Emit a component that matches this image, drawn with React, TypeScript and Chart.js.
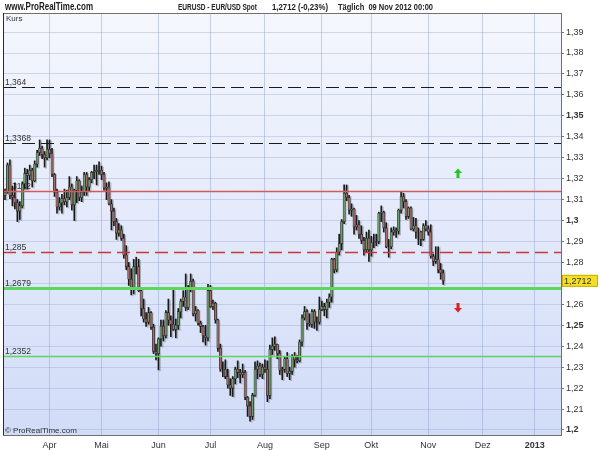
import React, { useEffect, useRef } from "react";
import { Chart, registerables } from "chart.js";

Chart.register(...registerables);

// ---------- DATA (daily EUR/USD, 7 Mar 2012 .. 9 Nov 2012, trading-day index) ----------
const openV = [
  1.3120, 1.3135, 1.3265, 1.3120, 1.3110, 1.3085, 1.3045, 1.3070, 1.3175, 1.3225,
  1.3215, 1.3240, 1.3190, 1.3270, 1.3325, 1.3345, 1.3315, 1.3300, 1.3340, 1.3320,
  1.3220, 1.3135, 1.3065, 1.3085, 1.3105, 1.3090, 1.3110, 1.3160, 1.3075, 1.3145,
  1.3190, 1.3110, 1.3135, 1.3220, 1.3160, 1.3195, 1.3230, 1.3235, 1.3240, 1.3240,
  1.3220, 1.3155, 1.3160, 1.3080, 1.3045, 1.2995, 1.2940, 1.2955, 1.2915, 1.2835,
  1.2780, 1.2720, 1.2680, 1.2780, 1.2780, 1.2665, 1.2580, 1.2530, 1.2515, 1.2560,
  1.2490, 1.2375, 1.2365, 1.2435, 1.2495, 1.2450, 1.2560, 1.2525, 1.2505, 1.2480,
  1.2500, 1.2565, 1.2615, 1.2635, 1.2585, 1.2680, 1.2710, 1.2555, 1.2570, 1.2510,
  1.2495, 1.2450, 1.2440, 1.2665, 1.2590, 1.2605, 1.2525, 1.2390, 1.2290, 1.2290,
  1.2255, 1.2215, 1.2200, 1.2245, 1.2290, 1.2275, 1.2265, 1.2275, 1.2155, 1.2115,
  1.2065, 1.2165, 1.2290, 1.2305, 1.2265, 1.2300, 1.2290, 1.2165, 1.2385, 1.2400,
  1.2410, 1.2365, 1.2285, 1.2290, 1.2340, 1.2270, 1.2280, 1.2350, 1.2335, 1.2330,
  1.2420, 1.2535, 1.2565, 1.2510, 1.2505, 1.2565, 1.2515, 1.2515, 1.2575, 1.2590,
  1.2575, 1.2610, 1.2635, 1.2815, 1.2765, 1.2850, 1.2890, 1.2995, 1.3130, 1.3110,
  1.3050, 1.3055, 1.2970, 1.2980, 1.2935, 1.2905, 1.2860, 1.2915, 1.2860, 1.2895,
  1.2895, 1.2900, 1.3035, 1.3040, 1.2965, 1.2875, 1.2875, 1.2945, 1.2955, 1.2950,
  1.3050, 1.3115, 1.3090, 1.3020, 1.3060, 1.2960, 1.2975, 1.2945, 1.2945, 1.2910,
  1.2975, 1.2960, 1.2945, 1.2830, 1.2805, 1.2815, 1.2765, 1.2750,
];
const highV = [
  1.3150, 1.3275, 1.3290, 1.3165, 1.3180, 1.3100, 1.3090, 1.3185, 1.3250, 1.3245,
  1.3265, 1.3250, 1.3285, 1.3335, 1.3385, 1.3355, 1.3330, 1.3385, 1.3385, 1.3345,
  1.3225, 1.3150, 1.3110, 1.3125, 1.3150, 1.3145, 1.3210, 1.3175, 1.3150, 1.3210,
  1.3195, 1.3165, 1.3230, 1.3230, 1.3205, 1.3235, 1.3265, 1.3265, 1.3280, 1.3260,
  1.3230, 1.3180, 1.3185, 1.3100, 1.3060, 1.3010, 1.2985, 1.2975, 1.2935, 1.2880,
  1.2800, 1.2770, 1.2815, 1.2825, 1.2815, 1.2680, 1.2625, 1.2560, 1.2585, 1.2565,
  1.2505, 1.2410, 1.2440, 1.2525, 1.2525, 1.2570, 1.2625, 1.2545, 1.2670, 1.2530,
  1.2580, 1.2625, 1.2665, 1.2745, 1.2690, 1.2745, 1.2720, 1.2590, 1.2575, 1.2520,
  1.2500, 1.2500, 1.2695, 1.2690, 1.2620, 1.2610, 1.2530, 1.2410, 1.2325, 1.2335,
  1.2290, 1.2245, 1.2255, 1.2300, 1.2330, 1.2290, 1.2315, 1.2285, 1.2160, 1.2135,
  1.2175, 1.2325, 1.2330, 1.2320, 1.2315, 1.2335, 1.2330, 1.2405, 1.2440, 1.2445,
  1.2410, 1.2380, 1.2300, 1.2350, 1.2370, 1.2300, 1.2360, 1.2370, 1.2355, 1.2430,
  1.2550, 1.2590, 1.2575, 1.2555, 1.2575, 1.2575, 1.2540, 1.2635, 1.2615, 1.2605,
  1.2625, 1.2650, 1.2820, 1.2820, 1.2870, 1.2935, 1.3005, 1.3170, 1.3170, 1.3120,
  1.3080, 1.3060, 1.3025, 1.3000, 1.2975, 1.2920, 1.2945, 1.2955, 1.2925, 1.2935,
  1.2935, 1.3040, 1.3070, 1.3045, 1.2990, 1.2910, 1.2965, 1.2970, 1.2965, 1.3055,
  1.3140, 1.3130, 1.3100, 1.3065, 1.3065, 1.3015, 1.3010, 1.2965, 1.2950, 1.2985,
  1.3000, 1.2975, 1.2980, 1.2840, 1.2875, 1.2875, 1.2795, 1.2765,
];
const lowV = [
  1.3100, 1.3130, 1.3105, 1.3070, 1.3055, 1.2995, 1.3005, 1.3060, 1.3150, 1.3150,
  1.3195, 1.3160, 1.3185, 1.3255, 1.3310, 1.3295, 1.3255, 1.3290, 1.3300, 1.3210,
  1.3115, 1.3035, 1.3050, 1.3035, 1.3075, 1.3065, 1.3100, 1.3050, 1.3000, 1.3085,
  1.3095, 1.3090, 1.3120, 1.3120, 1.3140, 1.3180, 1.3200, 1.3170, 1.3220, 1.3195,
  1.3145, 1.3100, 1.3075, 1.2955, 1.2975, 1.2910, 1.2925, 1.2905, 1.2820, 1.2765,
  1.2690, 1.2645, 1.2650, 1.2745, 1.2660, 1.2545, 1.2515, 1.2495, 1.2505, 1.2480,
  1.2365, 1.2335, 1.2287, 1.2400, 1.2425, 1.2440, 1.2500, 1.2445, 1.2475, 1.2440,
  1.2480, 1.2535, 1.2590, 1.2570, 1.2575, 1.2660, 1.2545, 1.2520, 1.2500, 1.2465,
  1.2420, 1.2405, 1.2425, 1.2585, 1.2575, 1.2510, 1.2375, 1.2280, 1.2255, 1.2245,
  1.2200, 1.2165, 1.2160, 1.2220, 1.2250, 1.2225, 1.2250, 1.2145, 1.2065, 1.2042,
  1.2050, 1.2160, 1.2245, 1.2255, 1.2245, 1.2275, 1.2135, 1.2150, 1.2360, 1.2380,
  1.2340, 1.2265, 1.2240, 1.2275, 1.2255, 1.2240, 1.2265, 1.2300, 1.2320, 1.2325,
  1.2400, 1.2525, 1.2480, 1.2495, 1.2490, 1.2485, 1.2475, 1.2505, 1.2570, 1.2545,
  1.2535, 1.2585, 1.2610, 1.2750, 1.2755, 1.2835, 1.2860, 1.2985, 1.3095, 1.3030,
  1.3020, 1.2935, 1.2955, 1.2915, 1.2890, 1.2835, 1.2850, 1.2805, 1.2830, 1.2870,
  1.2880, 1.2890, 1.2995, 1.2945, 1.2870, 1.2825, 1.2865, 1.2930, 1.2920, 1.2935,
  1.3035, 1.3060, 1.3005, 1.3010, 1.2955, 1.2950, 1.2915, 1.2885, 1.2880, 1.2905,
  1.2950, 1.2930, 1.2820, 1.2785, 1.2795, 1.2750, 1.2720, 1.2695,
];
const closeV = [
  1.3135, 1.3265, 1.3120, 1.3110, 1.3085, 1.3045, 1.3070, 1.3175, 1.3225, 1.3215,
  1.3240, 1.3190, 1.3270, 1.3325, 1.3345, 1.3315, 1.3300, 1.3340, 1.3320, 1.3220,
  1.3135, 1.3065, 1.3085, 1.3105, 1.3090, 1.3110, 1.3160, 1.3075, 1.3145, 1.3190,
  1.3110, 1.3135, 1.3220, 1.3160, 1.3195, 1.3230, 1.3235, 1.3240, 1.3240, 1.3220,
  1.3155, 1.3160, 1.3080, 1.3045, 1.2995, 1.2940, 1.2955, 1.2915, 1.2835, 1.2780,
  1.2720, 1.2680, 1.2780, 1.2780, 1.2665, 1.2580, 1.2530, 1.2515, 1.2560, 1.2490,
  1.2375, 1.2365, 1.2435, 1.2495, 1.2450, 1.2560, 1.2525, 1.2505, 1.2480, 1.2500,
  1.2565, 1.2615, 1.2635, 1.2585, 1.2680, 1.2710, 1.2555, 1.2570, 1.2510, 1.2495,
  1.2450, 1.2440, 1.2665, 1.2590, 1.2605, 1.2525, 1.2390, 1.2290, 1.2290, 1.2255,
  1.2215, 1.2200, 1.2245, 1.2290, 1.2275, 1.2265, 1.2275, 1.2155, 1.2115, 1.2065,
  1.2165, 1.2290, 1.2305, 1.2265, 1.2300, 1.2290, 1.2165, 1.2385, 1.2400, 1.2410,
  1.2365, 1.2285, 1.2290, 1.2340, 1.2270, 1.2280, 1.2350, 1.2335, 1.2330, 1.2420,
  1.2535, 1.2565, 1.2510, 1.2505, 1.2565, 1.2515, 1.2515, 1.2575, 1.2590, 1.2575,
  1.2610, 1.2635, 1.2815, 1.2765, 1.2850, 1.2890, 1.2995, 1.3130, 1.3110, 1.3050,
  1.3055, 1.2970, 1.2980, 1.2935, 1.2905, 1.2860, 1.2915, 1.2860, 1.2895, 1.2895,
  1.2900, 1.3035, 1.3040, 1.2965, 1.2875, 1.2875, 1.2945, 1.2955, 1.2950, 1.3050,
  1.3115, 1.3090, 1.3020, 1.3060, 1.2960, 1.2975, 1.2945, 1.2945, 1.2910, 1.2975,
  1.2960, 1.2945, 1.2830, 1.2805, 1.2815, 1.2765, 1.2750, 1.2712,
];

// month starts as trading-day index, and their labels
const monthTickIdx = [18, 39, 62, 83, 105, 128, 148, 171, 193, 214];
const monthTickLabels = ["Apr", "Mai", "Jun", "Jul", "Aug", "Sep", "Okt", "Nov", "Dez", "2013"];

const yTickValues = [
  1.2, 1.21, 1.22, 1.23, 1.24, 1.25, 1.26, 1.27, 1.28, 1.29,
  1.3, 1.31, 1.32, 1.33, 1.34, 1.35, 1.36, 1.37, 1.38, 1.39,
];

const levelValues = [1.364, 1.3368, 1.3142, 1.285, 1.2679, 1.2352];
const levelLabels = ["1,364", "1,3368", "1,3142", "1,285", "1,2679", "1,2352"];

const arrowIdx = [183, 183];
const arrowValues = [1.3225, 1.2585];
const arrowUp = [true, false];

const lastPrice = 1.2712;
const lastPriceLabel = "1,2712";
const siteLabel = "www.ProRealTime.com";
const titleParts = ["EURUSD - EUR/USD Spot", "1,2712 (-0,23%)", "Täglich  09 Nov 2012 00:00"];
const panelLabel = "Kurs";
const copyrightLabel = "© ProRealTime.com";

// ---------- STYLES ----------
const FONT = "'Liberation Sans', Arial, sans-serif";
const levelStyles = [
  { color: "#1a1a1a", width: 1.1, dash: [13, 6] },
  { color: "#1a1a1a", width: 1.1, dash: [13, 6] },
  { color: "#d45a5a", width: 1.3, dash: [] as number[] },
  { color: "#c83a3a", width: 1.3, dash: [13, 6] },
  { color: "#5cd65c", width: 3, dash: [] as number[] },
  { color: "#5cd65c", width: 1.5, dash: [] as number[] },
];
// header text layout: [x, width]
const headerBoxes = [
  [5, 88],
  [178, 79],
  [272, 56],
  [338, 95],
];

function fitText(ctx: CanvasRenderingContext2D, text: string, x: number, y: number, w: number) {
  const m = ctx.measureText(text).width;
  const sx = m > 0 ? w / m : 1;
  ctx.save();
  ctx.translate(x, y);
  ctx.scale(sx, 1);
  ctx.fillText(text, 0, 0);
  ctx.restore();
}

const proPlugin = {
  id: "proRT",
  beforeDraw(chart: any) {
    const { ctx, chartArea: a } = chart;
    const g = ctx.createLinearGradient(0, a.top, 0, a.bottom);
    g.addColorStop(0, "#f5f7fd");
    g.addColorStop(1, "#d1dcf8");
    ctx.save();
    ctx.fillStyle = g;
    ctx.fillRect(a.left, a.top, a.right - a.left, a.bottom - a.top);
    ctx.restore();
  },
  beforeDatasetsDraw(chart: any) {
    const { ctx, chartArea: a, scales } = chart;
    ctx.save();
    ctx.font = `8.5px ${FONT}`;
    ctx.fillStyle = "#333";
    ctx.textBaseline = "alphabetic";
    ctx.textAlign = "left";
    levelValues.forEach((v, i) => {
      const y = scales.y.getPixelForValue(v);
      ctx.fillText(levelLabels[i], a.left + 2, y - 2);
    });
    ctx.restore();
    ctx.save();
    ctx.shadowColor = "rgba(60,60,60,0.3)";
    ctx.shadowOffsetX = 1.5;
    ctx.shadowOffsetY = 1;
    ctx.shadowBlur = 0.5;
  },
  afterDatasetsDraw(chart: any) {
    const { ctx, chartArea: a, scales } = chart;
    ctx.restore();
    ctx.save();
    ctx.beginPath();
    ctx.rect(a.left, a.top, a.right - a.left, a.bottom - a.top);
    ctx.clip();
    levelValues.forEach((v, i) => {
      const st = levelStyles[i];
      const y = Math.round(scales.y.getPixelForValue(v)) + 0.5;
      ctx.beginPath();
      ctx.setLineDash(st.dash);
      ctx.strokeStyle = st.color;
      ctx.lineWidth = st.width;
      ctx.moveTo(a.left, y);
      ctx.lineTo(a.right, y);
      ctx.stroke();
    });
    ctx.setLineDash([]);
    arrowIdx.forEach((xi, i) => {
      const x = scales.x.getPixelForValue(xi);
      const y = scales.y.getPixelForValue(arrowValues[i]);
      ctx.fillStyle = arrowUp[i] ? "#1ec81e" : "#e02020";
      ctx.beginPath();
      if (arrowUp[i]) {
        ctx.moveTo(x, y - 5);
        ctx.lineTo(x + 4, y - 0.5);
        ctx.lineTo(x + 1.5, y - 0.5);
        ctx.lineTo(x + 1.5, y + 4.5);
        ctx.lineTo(x - 1.5, y + 4.5);
        ctx.lineTo(x - 1.5, y - 0.5);
        ctx.lineTo(x - 4, y - 0.5);
      } else {
        ctx.moveTo(x, y + 5);
        ctx.lineTo(x + 4, y + 0.5);
        ctx.lineTo(x + 1.5, y + 0.5);
        ctx.lineTo(x + 1.5, y - 4.5);
        ctx.lineTo(x - 1.5, y - 4.5);
        ctx.lineTo(x - 1.5, y + 0.5);
        ctx.lineTo(x - 4, y + 0.5);
      }
      ctx.closePath();
      ctx.fill();
    });
    ctx.restore();
  },
  afterDraw(chart: any) {
    const { ctx, chartArea: a, scales } = chart;
    ctx.save();
    // frame
    ctx.strokeStyle = "#707070";
    ctx.lineWidth = 1;
    ctx.strokeRect(Math.round(a.left) + 0.5, Math.round(a.top) + 0.5, Math.round(a.right - a.left), Math.round(a.bottom - a.top));
    ctx.strokeStyle = "#2a2a2a";
    ctx.beginPath();
    ctx.moveTo(Math.round(a.left) + 0.5, a.top);
    ctx.lineTo(Math.round(a.left) + 0.5, a.bottom);
    ctx.stroke();
    // header
    ctx.fillStyle = "#1a1a1a";
    ctx.textBaseline = "middle";
    ctx.textAlign = "left";
    ctx.font = `bold 10px ${FONT}`;
    fitText(ctx, siteLabel, headerBoxes[0][0], 7.5, headerBoxes[0][1]);
    ctx.fillStyle = "#222";
    ctx.font = `bold 9px ${FONT}`;
    for (let k = 0; k < 3; k++) {
      fitText(ctx, titleParts[k], headerBoxes[k + 1][0], 7.5, headerBoxes[k + 1][1]);
    }
    // panel labels
    ctx.fillStyle = "#333";
    ctx.font = `8px ${FONT}`;
    ctx.fillText(panelLabel, a.left + 3, a.top + 6);
    ctx.fillText(copyrightLabel, a.left + 2, a.bottom - 4);
    // last price box
    const py = scales.y.getPixelForValue(lastPrice);
    ctx.fillStyle = "#f4df24";
    ctx.fillRect(a.right + 1, py - 6, 35, 12);
    ctx.strokeStyle = "#c8b000";
    ctx.strokeRect(a.right + 1.5, py - 5.5, 35, 11);
    ctx.fillStyle = "#333";
    ctx.font = `9px ${FONT}`;
    ctx.fillText(lastPriceLabel, a.right + 3, py + 0.5);
    ctx.restore();
  },
};

export default function App() {
  const ref = useRef<HTMLCanvasElement | null>(null);

  useEffect(() => {
    if (!ref.current) return;
    const idx = closeV.map((_, i) => i);
    const wicks = idx.map((i) => ({ x: i, y: [lowV[i], highV[i]] }));
    const bodies = idx.map((i) => ({ x: i, y: [openV[i], closeV[i]] }));
    const bodyColors = idx.map((i) => (closeV[i] >= openV[i] ? "#6f9c6f" : "#a56b6b"));

    const chart = new Chart(ref.current, {
      type: "bar",
      data: {
        datasets: [
          {
            label: "body",
            data: bodies as any,
            backgroundColor: bodyColors,
            borderColor: "#202020",
            borderWidth: 0.6,
            borderSkipped: false,
            barThickness: 2.2,
            grouped: false,
            order: 1,
          } as any,
          {
            label: "wick",
            data: wicks as any,
            backgroundColor: "#1a1a1a",
            borderWidth: 0,
            barThickness: 1,
            grouped: false,
            order: 2,
          } as any,
        ],
      },
      options: {
        animation: false,
        responsive: false,
        layout: { padding: { left: 3, top: 13, right: 0, bottom: 0 } },
        plugins: { legend: { display: false }, tooltip: { enabled: false }, title: { display: false } },
        scales: {
          x: {
            type: "linear",
            min: -0.8,
            max: 224.6,
            offset: false,
            afterBuildTicks: (s: any) => {
              s.ticks = monthTickIdx.map((v) => ({ value: v }));
            },
            afterFit: (s: any) => {
              s.height = 15;
            },
            ticks: {
              autoSkip: false,
              maxRotation: 0,
              padding: 5,
              color: "#333",
              font: (c: any) => ({
                family: FONT,
                size: 9,
                weight: c && c.index === monthTickLabels.length - 1 ? "bold" : "normal",
              }),
              callback: (_v: any, i: number) => monthTickLabels[i],
            },
            grid: { color: "rgba(140,158,200,0.45)", drawTicks: false, offset: false, lineWidth: 1 },
            border: { display: false },
          },
          y: {
            type: "linear",
            position: "right",
            min: 1.1976,
            max: 1.3991,
            beginAtZero: false,
            afterBuildTicks: (s: any) => {
              s.ticks = yTickValues.map((v) => ({ value: v }));
            },
            afterFit: (s: any) => {
              s.width = 39;
            },
            ticks: {
              padding: 2,
              color: "#333",
              font: (c: any) => ({
                family: FONT,
                size: 9,
                weight: c && c.tick && Math.round(c.tick.value * 100) % 5 === 0 ? "bold" : "normal",
              }),
              callback: (v: any) => {
                const s = Number(v).toFixed(2).replace(/0+$/, "").replace(/\.$/, "");
                return s.replace(".", ",");
              },
            },
            grid: {
              color: "rgba(150,165,205,0.38)",
              tickColor: "#777",
              tickLength: 3,
              lineWidth: 1,
            },
            border: { display: false },
          },
        },
      } as any,
      plugins: [proPlugin],
    });
    return () => chart.destroy();
  }, []);

  return (
    <div style={{ position: "fixed", left: 0, top: 0, width: 600, height: 450, background: "#fff" }}>
      <canvas ref={ref} width={600} height={450} style={{ display: "block" }} />
    </div>
  );
}
